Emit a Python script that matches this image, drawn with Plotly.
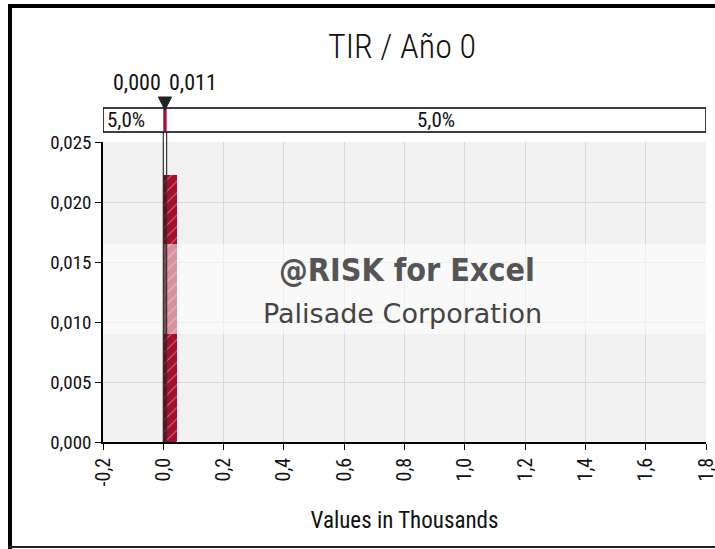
import plotly.graph_objects as go

# ---- data ----
bin_left = [0.0]
bin_width = [0.046]
density = [0.02225]
x_ticks = [-0.2, 0.0, 0.2, 0.4, 0.6, 0.8, 1.0, 1.2, 1.4, 1.6, 1.8]
y_ticks = [0.0, 0.005, 0.010, 0.015, 0.020, 0.025]
delim_left = 0.000
delim_right = 0.011
band_left_pct = "5,0%"
band_right_pct = "5,0%"
title_text = "TIR / Año 0"
x_title = "Values in Thousands"

X_MIN, X_MAX = -0.2, 1.8
Y_MIN, Y_MAX = 0.0, 0.025

FONT = "Roboto Condensed"
WM_FONT = "DejaVu Sans"

def comma(v, d):
    return f"{v:.{d}f}".replace(".", ",")

centers = [l + w / 2 for l, w in zip(bin_left, bin_width)]

fig = go.Figure()
fig.add_trace(go.Bar(
    x=centers, y=density, width=bin_width,
    marker=dict(color="#a50e2c", line=dict(width=0),
                pattern=dict(shape="/", fgcolor="#ffd6dd", size=8, solidity=0.12)),
    hoverinfo="skip", showlegend=False,
))

# plot geometry (pixels)
L, R, T, B = 103, 9, 108, 107
W = 715 - L - R
H = 549 - T - B
def py(pix):
    return (549 - B - pix) / H
def px(pix):
    return (pix - L) / W

shapes = []
shapes.append(dict(type="rect", xref="x", yref="y", x0=X_MIN, x1=X_MAX, y0=Y_MIN, y1=Y_MAX,
                   fillcolor="#f2f2f2", line=dict(width=0), layer="below"))
shapes.append(dict(type="rect", xref="x", yref="y", x0=X_MIN, x1=X_MAX, y0=0.0090, y1=0.0165,
                   fillcolor="rgba(255,255,255,0.55)", line=dict(width=0), layer="above"))
shapes.append(dict(type="rect", xref="x", yref="y", x0=delim_left, x1=delim_right,
                   y0=0, y1=density[0], fillcolor="rgba(70,0,15,0.55)", line=dict(width=0), layer="above"))
for xv in (delim_left, delim_right):
    shapes.append(dict(type="line", xref="x", yref="paper", x0=xv, x1=xv, y0=0, y1=py(132),
                       line=dict(color="#333333", width=1.2), layer="above"))
shapes.append(dict(type="rect", xref="x", yref="paper", x0=X_MIN, x1=X_MAX, y0=py(132), y1=py(108),
                   fillcolor="white", line=dict(color="black", width=1.5)))
shapes.append(dict(type="rect", xref="x", yref="paper", x0=delim_left, x1=delim_right, y0=py(131), y1=py(109),
                   fillcolor="#a50e2c", line=dict(width=0)))
mid = (delim_left + delim_right) / 2
tri_w = 0.022
shapes.append(dict(type="path", xref="x", yref="paper",
                   path=f"M {mid - tri_w},{py(97)} L {mid + tri_w},{py(97)} L {mid},{py(110)} Z",
                   fillcolor="#222222", line=dict(color="#222222", width=1)))
# outer frame: thick left/top, thin bottom
shapes.append(dict(type="line", xref="paper", yref="paper", x0=px(10), x1=px(10), y0=py(549), y1=py(4),
                   line=dict(color="black", width=4)))
shapes.append(dict(type="line", xref="paper", yref="paper", x0=px(8), x1=px(715), y0=py(6), y1=py(6),
                   line=dict(color="black", width=4)))
shapes.append(dict(type="line", xref="paper", yref="paper", x0=px(8), x1=px(715), y0=py(547), y1=py(547),
                   line=dict(color="#222222", width=2)))

annotations = [
    dict(text=title_text, xref="paper", yref="paper", x=px(402), y=py(46),
         showarrow=False, font=dict(family=FONT, size=34, weight=300, color="#111"),
         xanchor="center", yanchor="middle"),
    dict(text=comma(delim_left, 3), xref="x", yref="paper", x=delim_left - 0.001, y=py(83),
         showarrow=False, font=dict(family=FONT, size=22, color="#111"), xanchor="right", yanchor="middle"),
    dict(text=comma(delim_right, 3), xref="x", yref="paper", x=delim_right + 0.002, y=py(83),
         showarrow=False, font=dict(family=FONT, size=22, color="#111"), xanchor="left", yanchor="middle"),
    dict(text=band_left_pct, xref="x", yref="paper", x=X_MIN + 0.006, y=py(120),
         showarrow=False, font=dict(family=FONT, size=21, color="#111"), xanchor="left", yanchor="middle"),
    dict(text=band_right_pct, xref="x", yref="paper", x=(delim_right + X_MAX) / 2, y=py(120),
         showarrow=False, font=dict(family=FONT, size=21, color="#111"), xanchor="center", yanchor="middle"),
    dict(text="<b>@RISK for Excel</b>", xref="paper", yref="paper", x=px(407), y=py(270),
         showarrow=False, font=dict(family="DejaVu Sans Condensed", size=32, color="#555555"),
         xanchor="center", yanchor="middle"),
    dict(text="Palisade Corporation", xref="paper", yref="paper", x=px(402), y=py(313),
         showarrow=False, font=dict(family=WM_FONT, size=27, color="#444444"),
         xanchor="center", yanchor="middle"),
]

fig.update_layout(
    width=715, height=549,
    margin=dict(l=L, r=R, t=T, b=B, pad=0, autoexpand=False),
    paper_bgcolor="white", plot_bgcolor="rgba(0,0,0,0)",
    separators=",.",
    font=dict(family=FONT, size=19, color="#111"),
    shapes=shapes, annotations=annotations,
    bargap=0, showlegend=False,
    xaxis=dict(range=[X_MIN, X_MAX], tickvals=x_ticks, ticktext=[comma(v, 1) for v in x_ticks],
               tickangle=-90, ticklabeloverflow="allow", automargin=False,
               showgrid=True, gridcolor="#d9d9d9", gridwidth=1, zeroline=False,
               showline=True, linecolor="black", linewidth=1.5, ticks="outside", ticklen=6,
               tickcolor="black", tickfont=dict(family=FONT, size=20, color="#111"),
               title=dict(text=x_title, font=dict(family=FONT, size=23, color="#111"), standoff=26)),
    yaxis=dict(range=[Y_MIN, Y_MAX], tickvals=y_ticks, ticktext=[comma(v, 3) for v in y_ticks],
               domain=[0, py(142)], automargin=False,
               showgrid=True, gridcolor="#d9d9d9", gridwidth=1, zeroline=False,
               showline=True, linecolor="black", linewidth=1.5, ticks="outside", ticklen=6,
               tickcolor="black", tickfont=dict(family=FONT, size=19, color="#111")),
)

fig.write_html("out.html", config={"displayModeBar": False},
               post_script="document.body.style.margin='0';document.body.style.overflow='hidden';")
